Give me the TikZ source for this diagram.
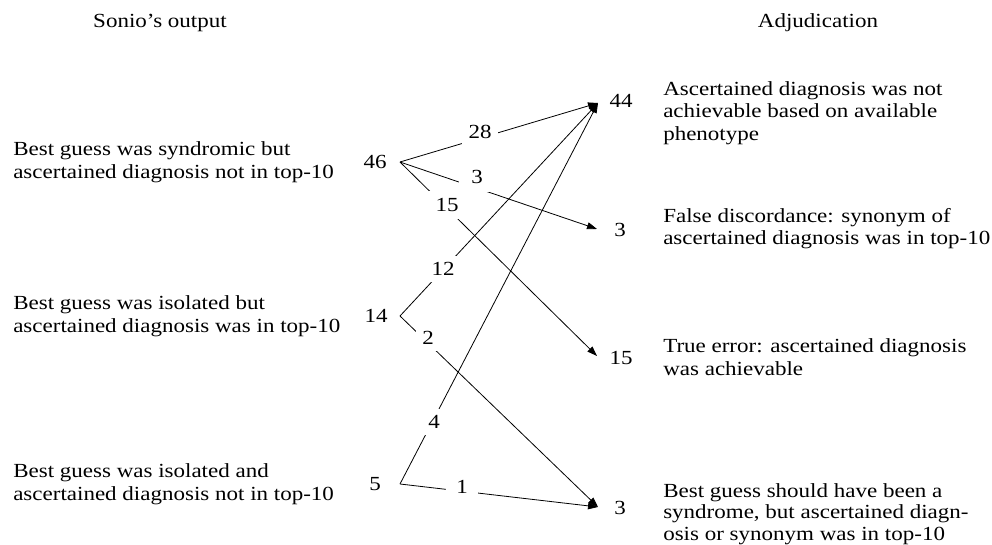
\documentclass[tikz,border=0pt]{standalone}
\usepackage{fontspec}
\setmainfont[FakeStretch=1.15]{Liberation Serif}
\usetikzlibrary{arrows.meta}
\begin{document}
\begin{tikzpicture}[x=0.75pt,y=-0.75pt,
  txt/.style={font=\fontsize{15pt}{16.9pt}\selectfont, inner sep=0pt},
  blk/.style={txt, align=left, anchor=west},
  num/.style={txt},
  lab/.style={txt, fill=white, inner xsep=5pt, inner ysep=4.5pt},
  conn/.style={line width=0.6pt, -{Triangle[length=7.5pt,width=5.2pt]}}]
\useasboundingbox (0,0) rectangle (992,545);

% titles
\node[txt, anchor=base] (hl) at (160,28) {Sonio's output};
\node[txt, anchor=base] (hr) at (818,28) {Adjudication};

% left descriptions
\node[blk] (d1) at (13,162) {Best guess was syndromic but\\ascertained diagnosis not in top-10};
\node[blk] (d2) at (13,316) {Best guess was isolated but\\ascertained diagnosis was in top-10};
\node[blk] (d3) at (13,484) {Best guess was isolated and\\ascertained diagnosis not in top-10};

% right descriptions
\node[blk] (r1) at (663,113) {Ascertained diagnosis was not\\achievable based on available\\phenotype};
\node[blk] (r2) at (663,228.5) {False discordance: synonym of\\ascertained diagnosis was in top-10};
\node[blk] (r3) at (663,357) {True error: ascertained diagnosis\\was achievable};
\node[blk, font=\fontsize{15pt}{16.3pt}\selectfont] (r4) at (663,514) {Best guess should have been a\\syndrome, but ascertained diagn-\\osis or synonym was in top-10};

% source numbers
\node[num] (n46) at (375,162) {46};
\node[num] (n14) at (376,316) {14};
\node[num] (n5) at (375,484) {5};
\coordinate (v46) at (400,162);
\coordinate (v14) at (400,316);
\coordinate (v5) at (400,484);

% target numbers
\node[num] (t44) at (621,101) {44};
\node[num] (t3a) at (620,230) {3};
\node[num] (t15) at (621,358) {15};
\node[num] (t3b) at (620,508) {3};
\coordinate (p44) at (598,103);
\coordinate (p3a) at (597,229);
\coordinate (p15) at (597,356);
\coordinate (p3b) at (598,507);

% connectors
\draw[conn] (v46) -- (p44);
\draw[conn] (v46) -- (p3a);
\draw[conn] (v46) -- (p15);
\draw[conn] (v14) -- (p44);
\draw[conn] (v14) -- (p3b);
\draw[conn] (v5) -- (p44);
\draw[conn] (v5) -- (p3b);

% connector labels
\node[lab] (l28) at (480,132) {28};
\node[lab, inner xsep=9pt, inner ysep=6.5pt] (l3) at (477,177) {3};
\node[lab, inner sep=5.5pt] (l15) at (447,205) {15};
\node[lab] (l12) at (443,269) {12};
\node[lab] (l2) at (428,338) {2};
\node[lab] (l4) at (434,422) {4};
\node[lab, inner xsep=7.5pt] (l1) at (462,487) {1};
\end{tikzpicture}
\end{document}
